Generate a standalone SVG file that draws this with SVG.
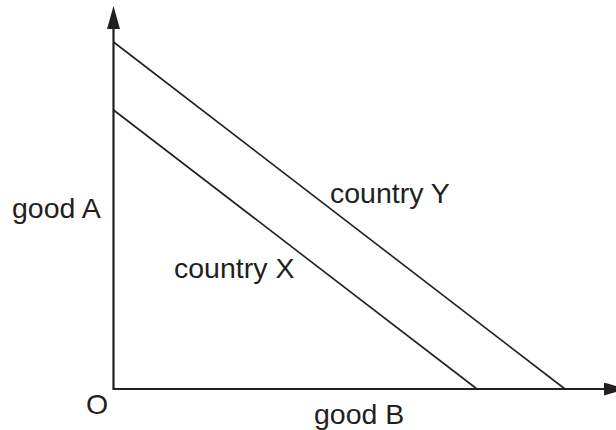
<svg xmlns="http://www.w3.org/2000/svg" width="616" height="430" viewBox="0 0 616 430">
<style>
text{font-family:"Liberation Sans",Arial,sans-serif;font-size:28.5px;fill:#231f20}
.ax{stroke:#231f20;stroke-width:2.2;fill:none}
.ln{stroke:#231f20;stroke-width:1.6;fill:none}
</style>
<defs>
<marker id="ah" markerWidth="23" markerHeight="13" refX="0" refY="6.5" orient="auto" markerUnits="userSpaceOnUse">
<path d="M0,0 L23,6.5 L0,13 Z" fill="#231f20"/>
</marker>
</defs>
<g id="axes">
<path class="ax" d="M113.5,389 L113.5,29" marker-end="url(#ah)"/>
<path class="ax" d="M112.5,389 L604,389" marker-end="url(#ah)"/>
</g>
<g id="connectors">
<path id="countryY-line" class="ln" d="M113.5,42 L565,389"/>
<path id="countryX-line" class="ln" d="M113.5,110 L477,389"/>
</g>
<g id="labels">
<text x="86" y="414">O</text>
<text x="12" y="218">good A</text>
<text x="314" y="424">good B</text>
<text x="330" y="203">country Y</text>
<text x="174" y="278">country X</text>
</g>
</svg>
